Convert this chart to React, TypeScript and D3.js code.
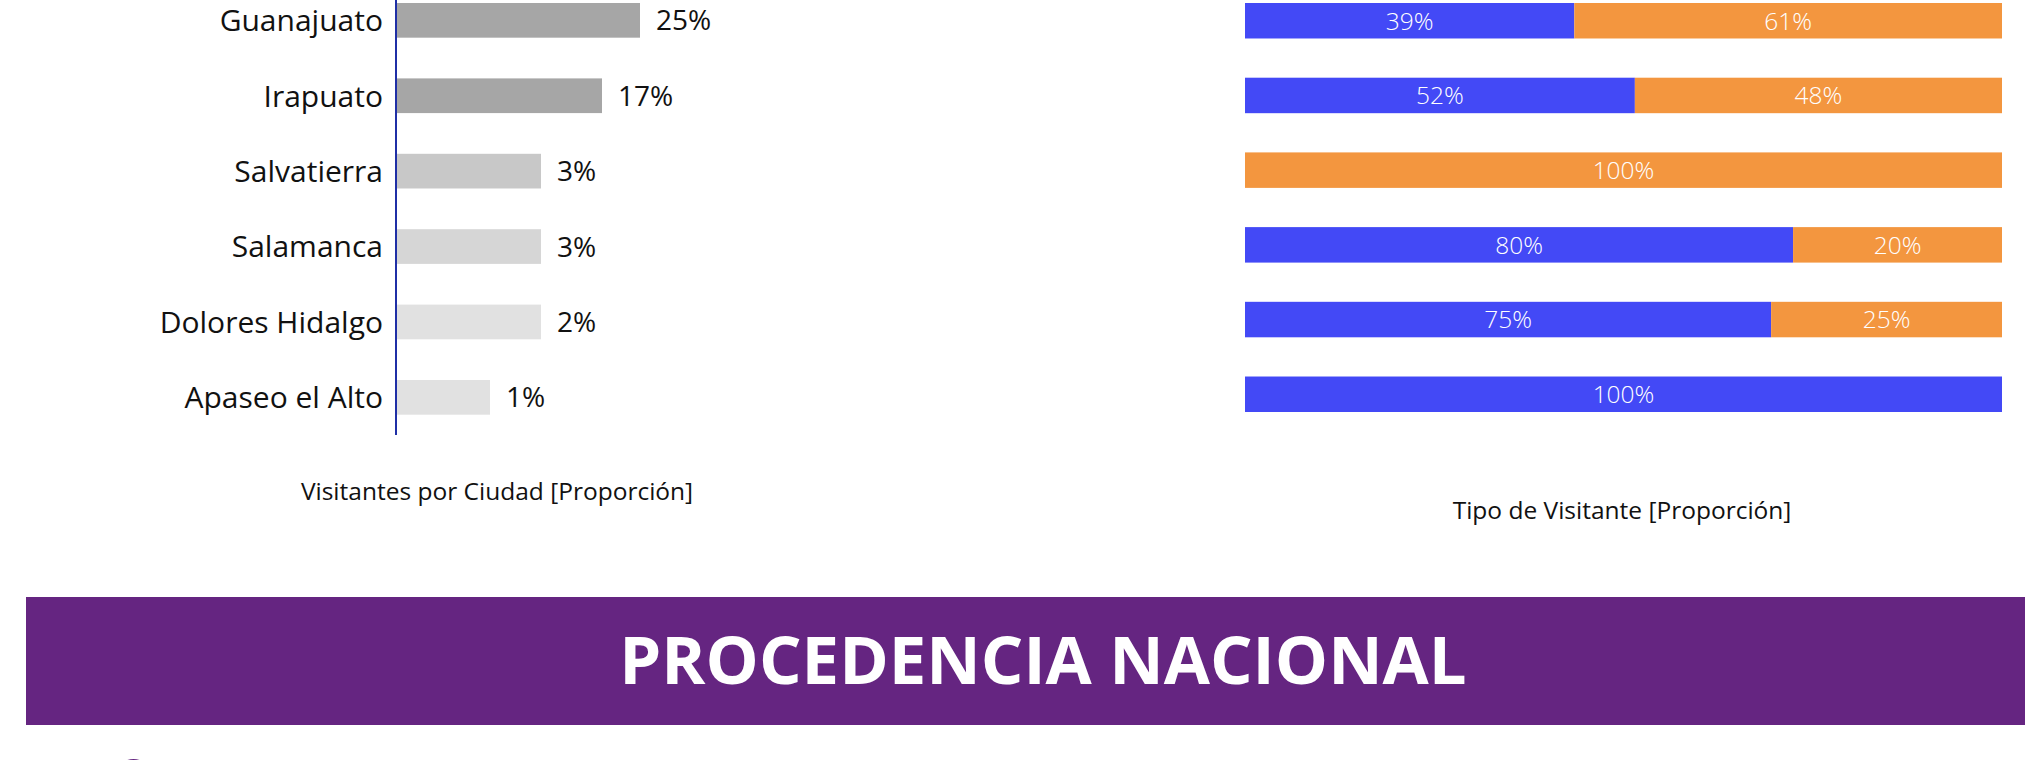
import React from "react";
import * as d3 from "d3";

// ---- data ----
const cities = ["Guanajuato", "Irapuato", "Salvatierra", "Salamanca", "Dolores Hidalgo", "Apaseo el Alto"];
const cityShareLabels = [25, 17, 3, 3, 2, 1];
// relative bar length as drawn in the picture (0-100 index)
const cityBarIndex = [97.2, 82, 57.6, 57.6, 57.6, 37.2];

// visitor type split per row (labels as printed)
const blueLabels = [39, 52, 0, 80, 75, 100];
const orangeLabels = [61, 48, 100, 20, 25, 0];
// blue share as drawn in the picture (%)
const blueDrawnShare = [43.5, 51.5, 0, 72.4, 69.5, 100];

const leftTitle = "Visitantes por Ciudad [Proporción]";
const rightTitle = "Tipo de Visitante [Proporción]";
const bannerText = "PROCEDENCIA NACIONAL";

// ---- styles ----
const W = 2025;
const H = 760;
const FONT = "'Open Sans', 'Noto Sans', sans-serif";
const cityColors = ["#A6A6A6", "#A6A6A6", "#C8C8C8", "#D6D6D6", "#E1E1E1", "#E1E1E1"];
const BLUE = "#4349F6";
const ORANGE = "#F3963F";
const PURPLE = "#652581";
const AXIS = "#1F2FA6";

export default function App() {
  const rows = d3.range(cities.length);

  // left chart scales
  const yL = d3.scaleBand<number>().domain(rows).range([3, 414.7]).paddingInner(0.54).paddingOuter(0);
  const xL = d3.scaleLinear().domain([0, 100]).range([397, 647]);

  // right chart scales
  const yR = d3.scaleBand<number>().domain(rows).range([3, 412]).paddingInner(0.525).paddingOuter(0);
  const xR = d3.scaleLinear().domain([0, 100]).range([1245, 2002]);

  return (
    <svg
      width={W}
      height={H}
      viewBox={`0 0 ${W} ${H}`}
      style={{ position: "absolute", left: 0, top: 0, display: "block", background: "#fff" }}
    >
      {/* left chart: visitors per city */}
      <g>
        {rows.map((i) => {
          const y = yL(i)!;
          const h = yL.bandwidth();
          const x1 = xL(cityBarIndex[i]);
          return (
            <g key={"L" + i}>
              <rect x={xL(0)} y={y} width={x1 - xL(0)} height={h} fill={cityColors[i]} />
              <text
                x={383}
                y={y + h / 2}
                dy="0.36em"
                textAnchor="end"
                fontFamily={FONT}
                fontSize={30}
                fill="#111"
              >
                {cities[i]}
              </text>
              <text x={x1 + 16} y={y + h / 2} dy="0.36em" fontFamily={FONT} fontSize={28} fill="#111">
                {cityShareLabels[i] + "%"}
              </text>
            </g>
          );
        })}
        <line x1={396} x2={396} y1={0} y2={435} stroke={AXIS} strokeWidth={2} />
        <text x={497} y={500} textAnchor="middle" fontFamily={FONT} fontSize={24.5} fill="#111">
          {leftTitle}
        </text>
      </g>

      {/* right chart: visitor type */}
      <g>
        {rows.map((i) => {
          const y = yR(i)!;
          const h = yR.bandwidth();
          const split = xR(blueDrawnShare[i]);
          const segs = [
            { x0: xR(0), x1: split, fill: BLUE, label: blueLabels[i] },
            { x0: split, x1: xR(100), fill: ORANGE, label: orangeLabels[i] },
          ].filter((s) => s.x1 - s.x0 > 0.5);
          return (
            <g key={"R" + i}>
              {segs.map((s, k) => (
                <g key={k}>
                  <rect x={s.x0} y={y} width={s.x1 - s.x0} height={h} fill={s.fill} />
                  <text
                    x={(s.x0 + s.x1) / 2}
                    y={y + h / 2}
                    dy="0.36em"
                    textAnchor="middle"
                    fontFamily={FONT}
                    fontWeight={300}
                    fontSize={24.5}
                    fill="#fff"
                  >
                    {s.label + "%"}
                  </text>
                </g>
              ))}
            </g>
          );
        })}
        <text x={1622} y={519} textAnchor="middle" fontFamily={FONT} fontSize={24.5} fill="#111">
          {rightTitle}
        </text>
      </g>

      {/* banner */}
      <rect x={26} y={597} width={W - 26} height={128} fill={PURPLE} />
      <text
        x={1043}
        y={684}
        textAnchor="middle"
        fontFamily={FONT}
        fontWeight={700}
        fontSize={67}
        fill="#fff"
      >
        {bannerText}
      </text>
      <circle cx={133.5} cy={778} r={19} fill={PURPLE} />
    </svg>
  );
}
